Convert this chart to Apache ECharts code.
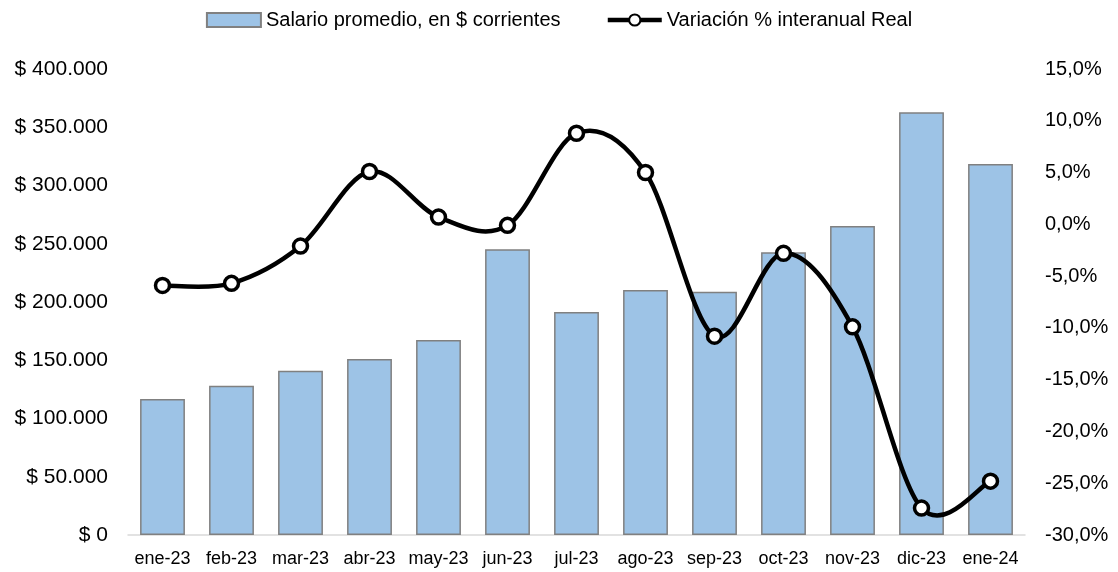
<!DOCTYPE html>
<html>
<head>
<meta charset="utf-8">
<script src="https://cdn.jsdelivr.net/npm/echarts@6/dist/echarts.min.js"></script>
<style>
  html, body { margin: 0; padding: 0; background: #fff; }
  #chart { width: 1118px; height: 572px; }
</style>
</head>
<body>
<div id="chart"></div>
<script>
// datos
var meses = ['ene-23', 'feb-23', 'mar-23', 'abr-23', 'may-23', 'jun-23', 'jul-23',
             'ago-23', 'sep-23', 'oct-23', 'nov-23', 'dic-23', 'ene-24'];
var salario = [116700, 128200, 141000, 151100, 167400, 245200, 191400,
               210300, 208800, 242700, 265200, 362800, 318400];
var variacion = [-5.9, -5.7, -2.1, 5.1, 0.7, -0.1, 8.8,
                 5.0, -10.8, -2.8, -9.9, -27.4, -24.8];

var fuente = "'Liberation Sans', Arial, sans-serif";

function pesos(v) {
    return '$ ' + String(v).replace(/\B(?=(\d{3})+(?!\d))/g, '.');
}
function porcentaje(v) {
    return v.toFixed(1).replace('.', ',') + '%';
}

// curva suavizada tipo Excel (Catmull-Rom), usando las coordenadas del eje
function curvaSuave(params, api) {
    if (params.dataIndex !== 0) return;
    var p = variacion.map(function (v, i) { return api.coord([i, v]); });
    var n = p.length;
    var d = 'M' + p[0][0] + ' ' + p[0][1];
    for (var i = 0; i < n - 1; i++) {
        var a = p[Math.max(i - 1, 0)], b = p[i], c = p[i + 1], e = p[Math.min(i + 2, n - 1)];
        var c1x = b[0] + (c[0] - a[0]) / 6, c1y = b[1] + (c[1] - a[1]) / 6;
        var c2x = c[0] - (e[0] - b[0]) / 6, c2y = c[1] - (e[1] - b[1]) / 6;
        d += ' C' + c1x + ' ' + c1y + ' ' + c2x + ' ' + c2y + ' ' + c[0] + ' ' + c[1];
    }
    return {
        type: 'path',
        shape: { pathData: d },
        style: { fill: 'none', stroke: '#000', lineWidth: 4.5 }
    };
}

var chart = echarts.init(document.getElementById('chart'));
var option = {
    animation: false,
    textStyle: { fontFamily: fuente, color: '#000' },
    legend: {
        top: 5,
        left: 'center',
        itemWidth: 54,
        itemHeight: 14,
        itemGap: 45,
        textStyle: { fontSize: 20, color: '#000', fontFamily: fuente },
        data: [
            { name: 'Salario promedio, en $ corrientes', icon: 'rect' },
            {
                name: 'Variación % interanual Real',
                lineStyle: { color: '#000', width: 4.5, opacity: 1 }
            }
        ]
    },
    grid: { left: 128, right: 93, top: 69, bottom: 37 },
    xAxis: {
        type: 'category',
        data: meses,
        axisLine: { lineStyle: { color: '#d9d9d9', width: 1.5 } },
        axisTick: { show: false },
        axisLabel: { fontSize: 18, color: '#000', margin: 15, interval: 0 }
    },
    yAxis: [
        {
            type: 'value',
            min: 0,
            max: 400000,
            interval: 50000,
            splitLine: { show: false },
            axisLabel: { fontSize: 21, color: '#000', margin: 20, formatter: pesos }
        },
        {
            type: 'value',
            min: -30,
            max: 15,
            interval: 5,
            splitLine: { show: false },
            axisLabel: { fontSize: 20, color: '#000', margin: 20, formatter: porcentaje }
        }
    ],
    series: [
        {
            name: 'Salario promedio, en $ corrientes',
            type: 'bar',
            data: salario,
            barWidth: '65%',
            itemStyle: { color: '#9dc3e6', borderColor: '#808080', borderWidth: 1.5 }
        },
        {
            name: 'curva',
            type: 'custom',
            yAxisIndex: 1,
            clip: false,
            z: 3,
            data: variacion.map(function (v, i) { return [i, v]; }),
            renderItem: curvaSuave
        },
        {
            name: 'Variación % interanual Real',
            type: 'line',
            yAxisIndex: 1,
            z: 4,
            data: variacion,
            symbol: 'circle',
            symbolSize: 14,
            lineStyle: { color: '#000', width: 4.5, opacity: 0 },
            itemStyle: { color: '#fff', borderColor: '#000', borderWidth: 3.5 }
        }
    ]
};
chart.setOption(option);
</script>
</body>
</html>
